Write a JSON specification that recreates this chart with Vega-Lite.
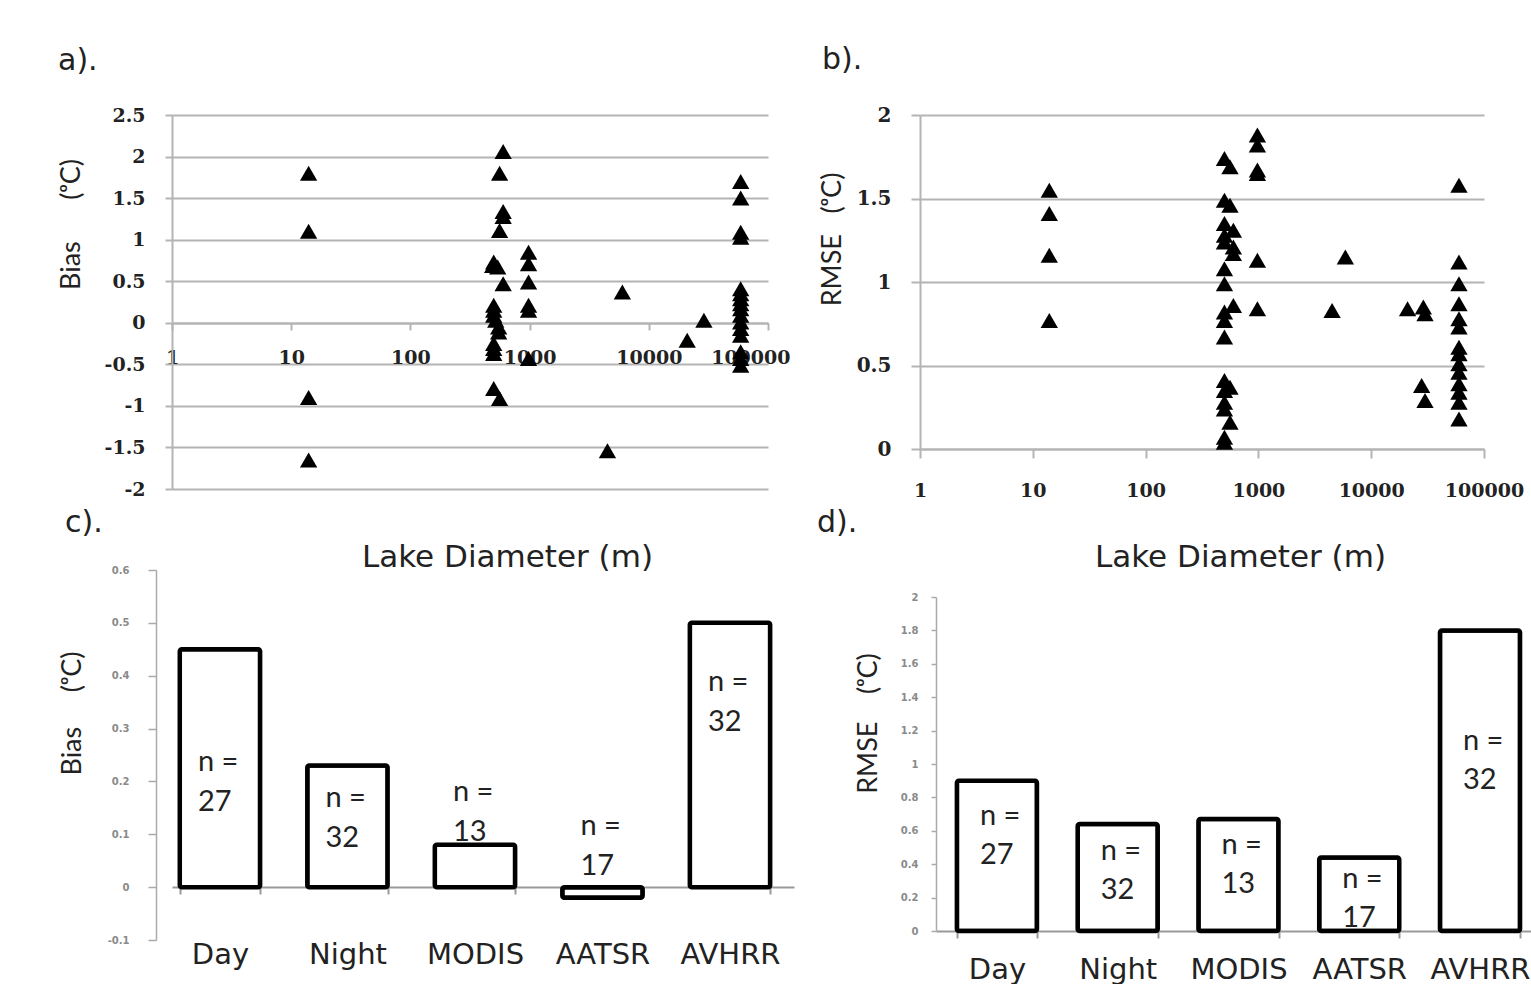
{
  "$schema": "https://vega.github.io/schema/vega-lite/v6.json",
  "background": "white",
  "padding": {"left": 56, "top": 45, "right": 0, "bottom": 0},
  "datasets": {
    "bias_pts": [
      {"diameter": 14, "bias": 1.8}, {"diameter": 14, "bias": 1.1}, {"diameter": 14, "bias": -0.9}, {"diameter": 14, "bias": -1.65},
      {"diameter": 600, "bias": 2.06}, {"diameter": 560, "bias": 1.8}, {"diameter": 600, "bias": 1.34}, {"diameter": 600, "bias": 1.28},
      {"diameter": 560, "bias": 1.11}, {"diameter": 500, "bias": 0.73}, {"diameter": 540, "bias": 0.67}, {"diameter": 490, "bias": 0.69},
      {"diameter": 600, "bias": 0.47}, {"diameter": 500, "bias": 0.21}, {"diameter": 500, "bias": 0.15}, {"diameter": 500, "bias": 0.09},
      {"diameter": 520, "bias": 0.03}, {"diameter": 550, "bias": -0.05}, {"diameter": 550, "bias": -0.11}, {"diameter": 500, "bias": -0.25},
      {"diameter": 500, "bias": -0.31}, {"diameter": 500, "bias": -0.37}, {"diameter": 500, "bias": -0.79}, {"diameter": 560, "bias": -0.91},
      {"diameter": 980, "bias": 0.85}, {"diameter": 980, "bias": 0.71}, {"diameter": 980, "bias": 0.49}, {"diameter": 980, "bias": 0.21},
      {"diameter": 980, "bias": 0.15}, {"diameter": 980, "bias": -0.43},
      {"diameter": 6000, "bias": 0.37}, {"diameter": 4500, "bias": -1.54}, {"diameter": 21000, "bias": -0.21}, {"diameter": 29000, "bias": 0.03},
      {"diameter": 59000, "bias": 1.7}, {"diameter": 59000, "bias": 1.5}, {"diameter": 59000, "bias": 1.09}, {"diameter": 59000, "bias": 1.03},
      {"diameter": 59000, "bias": 0.41}, {"diameter": 59000, "bias": 0.35}, {"diameter": 59000, "bias": 0.29}, {"diameter": 59000, "bias": 0.23},
      {"diameter": 59000, "bias": 0.17}, {"diameter": 59000, "bias": 0.09}, {"diameter": 59000, "bias": 0.01}, {"diameter": 59000, "bias": -0.07},
      {"diameter": 59000, "bias": -0.15}, {"diameter": 59000, "bias": -0.35}, {"diameter": 59000, "bias": -0.43}, {"diameter": 59000, "bias": -0.51}
    ],
    "rmse_pts": [
      {"diameter": 14, "rmse": 1.55}, {"diameter": 14, "rmse": 1.41}, {"diameter": 14, "rmse": 1.16}, {"diameter": 14, "rmse": 0.77},
      {"diameter": 500, "rmse": 1.74}, {"diameter": 560, "rmse": 1.69}, {"diameter": 500, "rmse": 1.49}, {"diameter": 560, "rmse": 1.46},
      {"diameter": 500, "rmse": 1.35}, {"diameter": 600, "rmse": 1.31}, {"diameter": 500, "rmse": 1.28}, {"diameter": 500, "rmse": 1.24},
      {"diameter": 600, "rmse": 1.21}, {"diameter": 600, "rmse": 1.17}, {"diameter": 500, "rmse": 1.08}, {"diameter": 500, "rmse": 0.99},
      {"diameter": 600, "rmse": 0.86}, {"diameter": 500, "rmse": 0.82}, {"diameter": 500, "rmse": 0.77}, {"diameter": 500, "rmse": 0.67},
      {"diameter": 500, "rmse": 0.41}, {"diameter": 560, "rmse": 0.37}, {"diameter": 500, "rmse": 0.35}, {"diameter": 500, "rmse": 0.28},
      {"diameter": 500, "rmse": 0.24}, {"diameter": 560, "rmse": 0.16}, {"diameter": 500, "rmse": 0.07}, {"diameter": 500, "rmse": 0.04},
      {"diameter": 980, "rmse": 1.88}, {"diameter": 980, "rmse": 1.82}, {"diameter": 980, "rmse": 1.67}, {"diameter": 980, "rmse": 1.65},
      {"diameter": 980, "rmse": 1.13}, {"diameter": 980, "rmse": 0.84},
      {"diameter": 4500, "rmse": 0.83}, {"diameter": 5900, "rmse": 1.15}, {"diameter": 21000, "rmse": 0.84}, {"diameter": 29000, "rmse": 0.85},
      {"diameter": 30000, "rmse": 0.81}, {"diameter": 28000, "rmse": 0.38}, {"diameter": 30000, "rmse": 0.29},
      {"diameter": 60000, "rmse": 1.58}, {"diameter": 60000, "rmse": 1.12}, {"diameter": 60000, "rmse": 0.99}, {"diameter": 60000, "rmse": 0.87},
      {"diameter": 60000, "rmse": 0.78}, {"diameter": 60000, "rmse": 0.73}, {"diameter": 60000, "rmse": 0.61}, {"diameter": 60000, "rmse": 0.57},
      {"diameter": 60000, "rmse": 0.51}, {"diameter": 60000, "rmse": 0.46}, {"diameter": 60000, "rmse": 0.39}, {"diameter": 60000, "rmse": 0.34},
      {"diameter": 60000, "rmse": 0.28}, {"diameter": 60000, "rmse": 0.18}
    ],
    "bias_bars": [
      {"platform": "Day", "bias": 0.45, "n": "n =\n27", "npos": 0.236},
      {"platform": "Night", "bias": 0.23, "n": "n =\n32", "npos": 0.168},
      {"platform": "MODIS", "bias": 0.08, "n": "n =\n13", "npos": 0.18},
      {"platform": "AATSR", "bias": -0.02, "n": "n =\n17", "npos": 0.115},
      {"platform": "AVHRR", "bias": 0.5, "n": "n =\n32", "npos": 0.388}
    ],
    "rmse_bars": [
      {"platform": "Day", "rmse": 0.9, "n": "n =\n27", "npos": 0.689},
      {"platform": "Night", "rmse": 0.64, "n": "n =\n32", "npos": 0.479},
      {"platform": "MODIS", "rmse": 0.67, "n": "n =\n13", "npos": 0.515},
      {"platform": "AATSR", "rmse": 0.44, "n": "n =\n17", "npos": 0.311},
      {"platform": "AVHRR", "rmse": 1.8, "n": "n =\n32", "npos": 1.138}
    ]
  },
  "columns": 2,
  "align": "none",
  "bounds": "full",
  "spacing": {"row": -64, "column": 23},
  "concat": [
    {
      "width": 596,
      "height": 374,
      "title": {"text": "a).", "anchor": "start", "frame": "group", "dx": -114, "offset": 30, "fontSize": 30, "font": "DejaVu Sans", "fontWeight": "normal", "color": "#222"},
      "data": {"name": "bias_pts"},
      "mark": {"type": "point", "shape": "triangle-up", "filled": true, "color": "#000", "size": 300, "opacity": 1},
      "encoding": {
        "x": {
          "field": "diameter", "type": "quantitative",
          "scale": {"type": "log", "domain": [1, 100000], "nice": false},
          "axis": {
            "title": "Lake Diameter (m)", "titleX": 335, "titleY": 234, "titleAlign": "center", "titleBaseline": "middle",
            "titleFont": "DejaVu Sans", "titleFontSize": 31, "titleFontWeight": "normal", "titleColor": "#222",
            "offset": -166, "values": [1, 10, 100, 1000, 10000, 100000], "format": "d", "grid": false, "labelFlush": false,
            "domainColor": "#b4b4b4", "domainWidth": 2, "tickColor": "#b4b4b4", "tickWidth": 2, "tickSize": 7,
            "labelPadding": 18, "labelFont": "DejaVu Serif", "labelFontWeight": "bold", "labelFontSize": 19, "labelColor": "#222",
            "labelAlign": {"condition": {"test": "datum.value >= 100000", "value": "right"}, "value": "center"},
            "labelOffset": {"condition": {"test": "datum.value >= 100000", "value": 22}, "value": 0}
          }
        },
        "y": {
          "field": "bias", "type": "quantitative",
          "scale": {"domain": [-2, 2.5], "nice": false, "zero": false},
          "axis": {
            "title": "Bias\u00a0\u00a0\u00a0\u00a0\u00a0\u00a0(ᵒC)", "titleX": -101, "titleY": 109, "titleAngle": -90, "titleAlign": "center", "titleBaseline": "middle",
            "titleFont": "Lato", "titleFontSize": 27, "titleFontWeight": "normal", "titleColor": "#222",
            "values": [-2, -1.5, -1, -0.5, 0, 0.5, 1, 1.5, 2, 2.5], "format": "~g", "grid": true, "gridColor": "#b4b4b4", "gridWidth": 2,
            "domainColor": "#b4b4b4", "domainWidth": 2, "tickColor": "#b4b4b4", "tickWidth": 2, "tickSize": 7,
            "labelPadding": 20, "labelFont": "DejaVu Serif", "labelFontWeight": "bold", "labelFontSize": 19, "labelColor": "#222",
            "labelExpr": "replace(datum.label, '−', '-')"
          }
        }
      }
    },
    {
      "width": 564,
      "height": 334,
      "title": {"text": "b).", "anchor": "start", "frame": "group", "dx": -98, "offset": 30, "fontSize": 30, "font": "DejaVu Sans", "fontWeight": "normal", "color": "#222"},
      "data": {"name": "rmse_pts"},
      "mark": {"type": "point", "shape": "triangle-up", "filled": true, "color": "#000", "size": 300, "opacity": 1},
      "encoding": {
        "x": {
          "field": "diameter", "type": "quantitative",
          "scale": {"type": "log", "domain": [1, 100000], "nice": false},
          "axis": {
            "title": "Lake Diameter (m)", "titleX": 320, "titleY": 108, "titleAlign": "center", "titleBaseline": "middle",
            "titleFont": "DejaVu Sans", "titleFontSize": 31, "titleFontWeight": "normal", "titleColor": "#222",
            "values": [1, 10, 100, 1000, 10000, 100000], "format": "d", "grid": false, "labelFlush": false,
            "domainColor": "#b4b4b4", "domainWidth": 2, "tickColor": "#b4b4b4", "tickWidth": 2, "tickSize": 9,
            "labelPadding": 23, "labelFont": "DejaVu Serif", "labelFontWeight": "bold", "labelFontSize": 19, "labelColor": "#222"
          }
        },
        "y": {
          "field": "rmse", "type": "quantitative",
          "scale": {"domain": [0, 2], "nice": false},
          "axis": {
            "title": "RMSE\u00a0\u00a0\u00a0(ᵒC)", "titleX": -88, "titleY": 124, "titleAngle": -90, "titleAlign": "center", "titleBaseline": "middle",
            "titleFont": "Lato", "titleFontSize": 27, "titleFontWeight": "normal", "titleColor": "#222",
            "values": [0, 0.5, 1, 1.5, 2], "format": "~g", "grid": true, "gridColor": "#b4b4b4", "gridWidth": 2,
            "domainColor": "#b4b4b4", "domainWidth": 2, "tickColor": "#b4b4b4", "tickWidth": 2, "tickSize": 9,
            "labelPadding": 20, "labelFont": "DejaVu Serif", "labelFontWeight": "bold", "labelFontSize": 20, "labelColor": "#222"
          }
        }
      }
    },
    {
      "width": 622,
      "height": 370,
      "title": {"text": "c).", "anchor": "start", "frame": "group", "dx": -107, "offset": 27, "fontSize": 30, "font": "DejaVu Sans", "fontWeight": "normal", "color": "#222"},
      "data": {"name": "bias_bars"},
      "encoding": {
        "x": {
          "field": "platform", "type": "nominal", "sort": null,
          "scale": {"paddingInner": 0.37, "paddingOuter": 0.124, "align": 0.246},
          "axis": {
            "title": null, "offset": -53, "labelAngle": 0, "labelFont": "DejaVu Sans", "labelFontSize": 29, "labelColor": "#222",
            "labelPadding": 46, "tickBand": "extent", "tickSize": 7, "tickColor": "#999", "tickWidth": 2,
            "domainColor": "#999", "domainWidth": 2
          }
        }
      },
      "layer": [
        {
          "mark": {"type": "bar", "fill": "white", "stroke": "black", "strokeWidth": 4.5, "cornerRadius": 2},
          "encoding": {
            "y": {
              "field": "bias", "type": "quantitative",
              "scale": {"domain": [-0.1, 0.6], "nice": false},
              "axis": {
                "title": "Bias\u00a0\u00a0\u00a0\u00a0\u00a0(ᵒC)", "titleX": -84, "titleY": 143, "titleAngle": -90, "titleAlign": "center", "titleBaseline": "middle",
                "titleFont": "Lato", "titleFontSize": 27, "titleFontWeight": "normal", "titleColor": "#222",
                "offset": 16, "values": [-0.1, 0, 0.1, 0.2, 0.3, 0.4, 0.5, 0.6], "format": "~g", "grid": false, "labelOverlap": false,
                "domainColor": "#aaa", "domainWidth": 1.5, "tickColor": "#aaa", "tickSize": 8, "tickWidth": 1.5,
                "labelPadding": 19, "labelFont": "DejaVu Sans", "labelFontSize": 10, "labelFontWeight": "bold", "labelColor": "#8a8a8a",
                "labelExpr": "replace(datum.label, '−', '-')"
              }
            }
          }
        },
        {
          "mark": {"type": "text", "lineBreak": "\n", "lineHeight": 40, "align": "left", "baseline": "middle", "dx": -22, "font": "Lato", "fontSize": 29, "color": "#222"},
          "encoding": {
            "y": {
              "field": "npos", "type": "quantitative",
              "axis": {
                "title": "Bias\u00a0\u00a0\u00a0\u00a0\u00a0(ᵒC)", "titleX": -84, "titleY": 143, "titleAngle": -90, "titleAlign": "center", "titleBaseline": "middle",
                "titleFont": "Lato", "titleFontSize": 27, "titleFontWeight": "normal", "titleColor": "#222",
                "offset": 16, "values": [-0.1, 0, 0.1, 0.2, 0.3, 0.4, 0.5, 0.6], "format": "~g", "grid": false, "labelOverlap": false,
                "domainColor": "#aaa", "domainWidth": 1.5, "tickColor": "#aaa", "tickSize": 8, "tickWidth": 1.5,
                "labelPadding": 19, "labelFont": "DejaVu Sans", "labelFontSize": 10, "labelFontWeight": "bold", "labelColor": "#8a8a8a",
                "labelExpr": "replace(datum.label, '−', '-')"
              }
            },
            "text": {"field": "n", "type": "nominal"}
          }
        }
      ]
    },
    {
      "width": 596,
      "height": 334,
      "title": {"text": "d).", "anchor": "start", "frame": "group", "dx": -119, "offset": 54, "fontSize": 30, "font": "DejaVu Sans", "fontWeight": "normal", "color": "#222"},
      "data": {"name": "rmse_bars"},
      "encoding": {
        "x": {
          "field": "platform", "type": "nominal", "sort": null,
          "scale": {"paddingInner": 0.337, "paddingOuter": 0.136, "align": 0.636},
          "axis": {
            "title": null, "labelAngle": 0, "labelFont": "DejaVu Sans", "labelFontSize": 29, "labelColor": "#222",
            "labelPadding": 17, "tickBand": "extent", "tickSize": 7, "tickColor": "#999", "tickWidth": 2,
            "domainColor": "#999", "domainWidth": 2
          }
        }
      },
      "layer": [
        {
          "mark": {"type": "bar", "fill": "white", "stroke": "black", "strokeWidth": 4.5, "cornerRadius": 2},
          "encoding": {
            "y": {
              "field": "rmse", "type": "quantitative",
              "scale": {"domain": [0, 2], "nice": false},
              "axis": {
                "title": "RMSE\u00a0\u00a0\u00a0\u00a0(ᵒC)", "titleX": -68, "titleY": 126, "titleAngle": -90, "titleAlign": "center", "titleBaseline": "middle",
                "titleFont": "Lato", "titleFontSize": 27, "titleFontWeight": "normal", "titleColor": "#222",
                "values": [0, 0.2, 0.4, 0.6, 0.8, 1, 1.2, 1.4, 1.6, 1.8, 2], "format": "~g", "grid": false, "labelOverlap": false,
                "domainColor": "#aaa", "domainWidth": 1.5, "tickColor": "#aaa", "tickSize": 5, "tickWidth": 1.5,
                "labelPadding": 13, "labelFont": "DejaVu Sans", "labelFontSize": 10, "labelFontWeight": "bold", "labelColor": "#8a8a8a"
              }
            }
          }
        },
        {
          "mark": {"type": "text", "lineBreak": "\n", "lineHeight": 39, "align": "left", "baseline": "middle", "dx": -17, "font": "Lato", "fontSize": 29, "color": "#222"},
          "encoding": {
            "y": {
              "field": "npos", "type": "quantitative",
              "axis": {
                "title": "RMSE\u00a0\u00a0\u00a0\u00a0(ᵒC)", "titleX": -68, "titleY": 126, "titleAngle": -90, "titleAlign": "center", "titleBaseline": "middle",
                "titleFont": "Lato", "titleFontSize": 27, "titleFontWeight": "normal", "titleColor": "#222",
                "values": [0, 0.2, 0.4, 0.6, 0.8, 1, 1.2, 1.4, 1.6, 1.8, 2], "format": "~g", "grid": false, "labelOverlap": false,
                "domainColor": "#aaa", "domainWidth": 1.5, "tickColor": "#aaa", "tickSize": 5, "tickWidth": 1.5,
                "labelPadding": 13, "labelFont": "DejaVu Sans", "labelFontSize": 10, "labelFontWeight": "bold", "labelColor": "#8a8a8a"
              }
            },
            "text": {"field": "n", "type": "nominal"}
          }
        }
      ]
    }
  ],
  "config": {
    "view": {"stroke": null},
    "font": "Lato"
  }
}
